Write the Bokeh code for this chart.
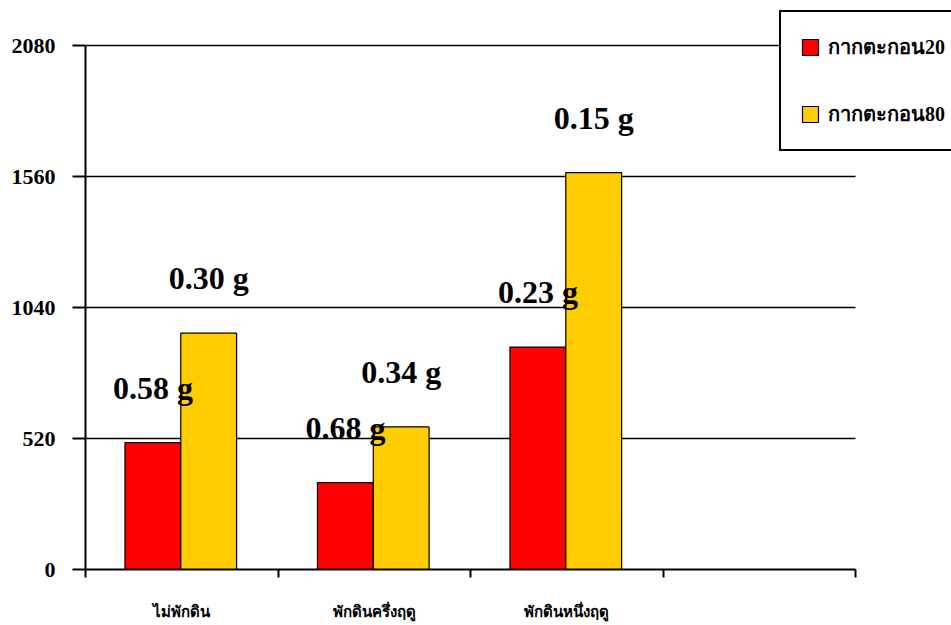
from bokeh.plotting import figure
from bokeh.models import (ColumnDataSource, Range1d, FixedTicker, LabelSet,
                          Legend, LegendItem)
from bokeh.transform import dodge
from bokeh.embed import file_html
from bokeh.resources import INLINE

# ---- data ----
categories = ["ไม่พักดิน", "พักดินครึ่งฤดู", "พักดินหนึ่งฤดู"]
n_slots = 4  # the axis has one extra empty slot at the right
series_names = ["กากตะกอน20", "กากตะกอน80"]
values_20 = [504, 345, 883]
values_80 = [938, 566, 1575]
labels_20 = ["0.58 g", "0.68 g", "0.23 g"]
labels_80 = ["0.30 g", "0.34 g", "0.15 g"]
y_ticks = [0, 520, 1040, 1560, 2080]
y_max = 2080

RED = "#FF0000"
YELLOW = "#FFCC00"
FONT = "Liberation Serif"

# layout (pixels)
W, H = 951, 625
LEFT, BOTTOM = 85, 56
AXIS_RIGHT_PX = 855   # where the x axis ends
AXIS_TOP_PX = 45      # where y_max sits
frame_w = W - LEFT
frame_h = H - BOTTOM
x_end = n_slots * frame_w / (AXIS_RIGHT_PX - LEFT)
y_end = y_max * frame_h / (frame_h - AXIS_TOP_PX)

centers = [i + 0.5 for i in range(len(categories))]
src = ColumnDataSource(dict(x=centers, v20=values_20, v80=values_80,
                            l20=labels_20, l80=labels_80))
grid_src = ColumnDataSource(dict(y=y_ticks[1:]))

p = figure(width=W, height=H, output_backend="svg", toolbar_location=None,
           x_range=Range1d(0, x_end), y_range=Range1d(0, y_end),
           min_border_left=LEFT, min_border_right=0, min_border_top=0,
           min_border_bottom=BOTTOM)
p.background_fill_color = "white"
p.border_fill_color = "white"
p.outline_line_color = None
p.xgrid.grid_line_color = None
p.ygrid.grid_line_color = None

# horizontal grid lines, limited to the axis extent
p.segment(x0=0, x1=n_slots, y0="y", y1="y", source=grid_src,
          line_color="black", line_width=1.5)

bw = 0.29
r20 = p.vbar(x=dodge("x", -0.15, range=p.x_range), top="v20", width=bw,
             source=src, fill_color=RED, line_color="black", line_width=1.2)
r80 = p.vbar(x=dodge("x", 0.14, range=p.x_range), top="v80", width=bw,
             source=src, fill_color=YELLOW, line_color="black", line_width=1.2)

for col, lab, off in (("v20", "l20", -0.15), ("v80", "l80", 0.14)):
    ls = LabelSet(x=dodge("x", off, range=p.x_range), y=col, text=lab,
                  source=src, text_align="center", text_baseline="alphabetic",
                  y_offset=44, text_font=FONT, text_font_style="bold",
                  text_font_size="32px", text_color="black")
    p.add_layout(ls)

# y axis
p.yaxis.bounds = (0, y_max)
p.yaxis.ticker = FixedTicker(ticks=y_ticks)
p.yaxis.major_tick_out = 13
p.yaxis.major_tick_in = 0
p.yaxis.minor_tick_line_color = None
p.yaxis.axis_line_width = 2
p.yaxis.major_tick_line_width = 2
p.yaxis.axis_line_color = "black"
p.yaxis.major_tick_line_color = "black"
p.yaxis.major_label_text_font = FONT
p.yaxis.major_label_text_font_style = "bold"
p.yaxis.major_label_text_font_size = "22px"
p.yaxis.major_label_text_color = "black"
p.yaxis.major_label_standoff = 17

# x axis: labels at slot centers, tick marks at slot boundaries
p.xaxis.bounds = (0, n_slots)
p.xaxis.ticker = FixedTicker(ticks=centers,
                             minor_ticks=list(range(n_slots + 1)))
p.xaxis.major_label_overrides = {c: t for c, t in zip(centers, categories)}
p.xaxis.major_tick_out = 0
p.xaxis.major_tick_in = 0
p.xaxis.minor_tick_out = 8
p.xaxis.minor_tick_in = 0
p.xaxis.minor_tick_line_width = 2
p.xaxis.minor_tick_line_color = "black"
p.xaxis.axis_line_width = 2
p.xaxis.axis_line_color = "black"
p.xaxis.major_label_text_font = FONT
p.xaxis.major_label_text_font_style = "bold"
p.xaxis.major_label_text_font_size = "15px"
p.xaxis.major_label_text_color = "black"
p.xaxis.major_label_standoff = 26

legend = Legend(items=[LegendItem(label=series_names[0], renderers=[r20]),
                       LegendItem(label=series_names[1], renderers=[r80])],
                location=(694, frame_h - 151))
legend.border_line_color = "black"
legend.border_line_alpha = 1
legend.border_line_width = 2
legend.background_fill_color = "white"
legend.background_fill_alpha = 1
legend.glyph_width = 20
legend.glyph_height = 20
legend.label_width = 190
legend.label_text_font = FONT
legend.label_text_font_style = "bold"
legend.label_text_font_size = "20px"
legend.label_text_color = "black"
legend.label_standoff = 8
legend.spacing = 35
legend.padding = 19
legend.margin = 0
p.add_layout(legend, "center")

open("out.html", "w").write(file_html(p, INLINE))
